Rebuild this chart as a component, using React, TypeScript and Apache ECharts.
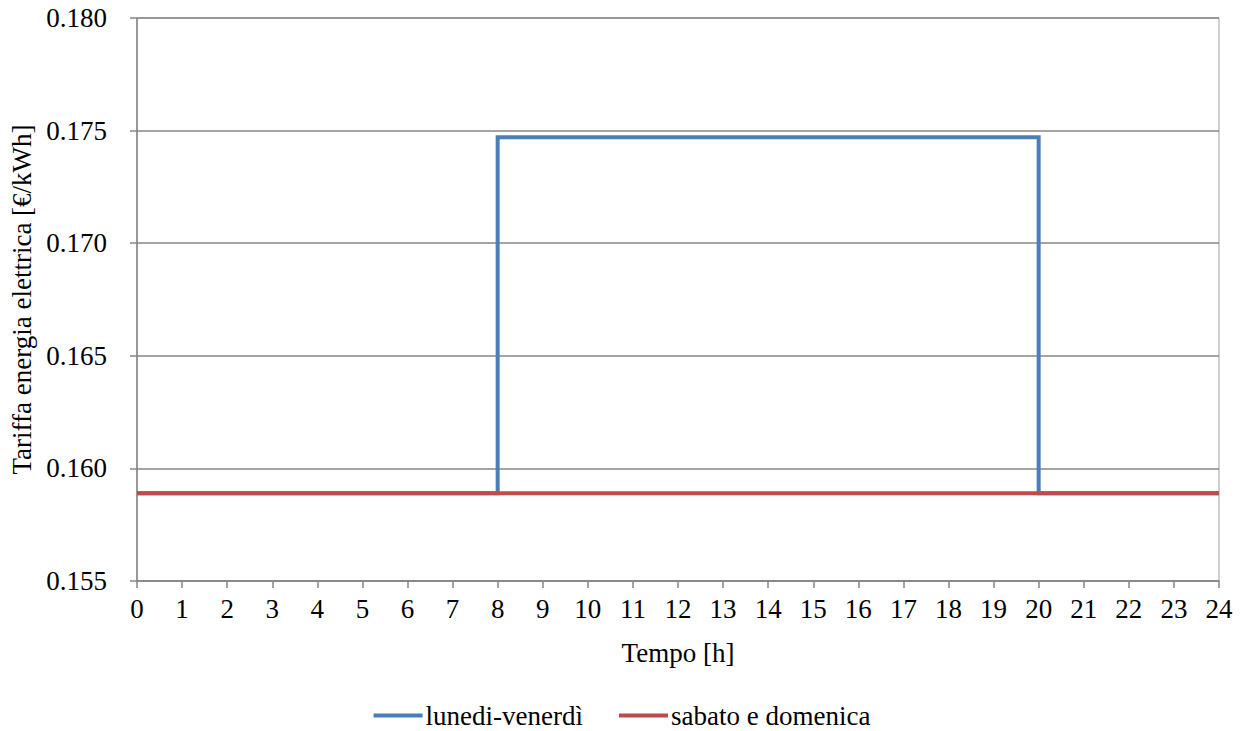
import React, { useEffect, useRef } from "react";
import * as echarts from "echarts";

const hoursWeekday = [0, 8, 8, 20, 20, 24];
const valuesWeekday = [0.1589, 0.1589, 0.1747, 0.1747, 0.1589, 0.1589];
const hoursWeekend = [0, 24];
const valuesWeekend = [0.1589, 0.1589];
const seriesNames = ["lunedi-venerdì", "sabato e domenica"];
const seriesColors = ["#4a7ebb", "#be4b48"];

const FONT = "Liberation Serif";
const FS = 27;

export default function App() {
  const ref = useRef<HTMLDivElement>(null);
  useEffect(() => {
    if (!ref.current) return;
    const chart = echarts.init(ref.current, undefined, { renderer: "svg" });
    chart.setOption({
      animation: false,
      textStyle: { fontFamily: FONT, color: "#000" },
      grid: {
        left: 137,
        right: 25,
        top: 18,
        bottom: 150,
        show: true,
        borderColor: "#a0a0a0",
        borderWidth: 1,
      },
      legend: {
        top: 702,
        left: "center",
        icon: "rect",
        itemWidth: 49,
        itemHeight: 4,
        itemGap: 36,
        padding: 0,
        textStyle: { fontFamily: FONT, fontSize: FS, color: "#000", padding: [0, 0, 0, -2] },
        data: seriesNames,
      },
      xAxis: {
        type: "value",
        min: 0,
        max: 24,
        interval: 1,
        name: "Tempo [h]",
        nameLocation: "middle",
        nameGap: 58,
        nameTextStyle: { fontFamily: FONT, fontSize: FS, color: "#000" },
        axisLine: { show: true, lineStyle: { color: "#868686", width: 1.5 } },
        axisTick: { show: true, inside: false, length: 7, lineStyle: { color: "#868686", width: 1.5 } },
        axisLabel: { fontFamily: FONT, fontSize: FS, color: "#000", margin: 14 },
        splitLine: { show: false },
      },
      yAxis: {
        type: "value",
        min: 0.155,
        max: 0.18,
        interval: 0.005,
        name: "Tariffa energia elettrica [€/kWh]",
        nameLocation: "middle",
        nameGap: 102,
        nameTextStyle: { fontFamily: FONT, fontSize: FS, color: "#000" },
        axisLine: { show: true, lineStyle: { color: "#868686", width: 1.5 } },
        axisTick: { show: true, inside: false, length: 7, lineStyle: { color: "#868686", width: 1.5 } },
        axisLabel: {
          fontFamily: FONT,
          fontSize: FS,
          color: "#000",
          margin: 30,
          formatter: (v: number) => v.toFixed(3),
        },
        splitLine: { show: true, lineStyle: { color: "#868686", width: 1.5 } },
      },
      series: [
        {
          name: seriesNames[0],
          type: "line",
          data: hoursWeekday.map((h, i) => [h, valuesWeekday[i]]),
          showSymbol: false,
          symbol: "none",
          color: seriesColors[0],
          lineStyle: { color: seriesColors[0], width: 4, join: "miter" },
          z: 2,
        },
        {
          name: seriesNames[1],
          type: "line",
          data: hoursWeekend.map((h, i) => [h, valuesWeekend[i]]),
          showSymbol: false,
          symbol: "none",
          color: seriesColors[1],
          lineStyle: { color: seriesColors[1], width: 4 },
          z: 3,
        },
      ],
    });
    return () => chart.dispose();
  }, []);
  return <div ref={ref} style={{ width: 1244, height: 731, position: "absolute", left: 0, top: 0 }} />;
}
